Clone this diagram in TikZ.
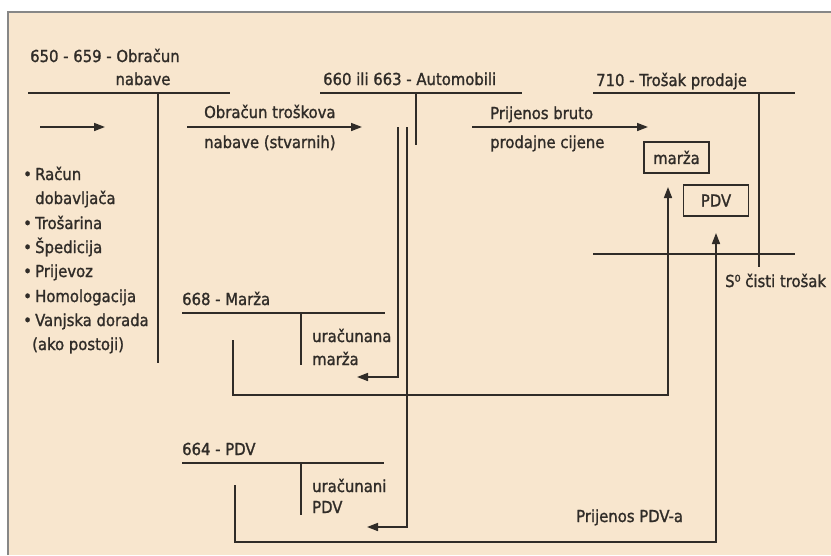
\documentclass[tikz,border=0pt]{standalone}
\usepackage{fontspec}
\setmainfont[FakeBold=1.3]{DejaVu Sans Condensed}
\usetikzlibrary{arrows.meta,calc}
\definecolor{bg}{RGB}{248,230,206}
\definecolor{ink}{RGB}{48,44,40}
\definecolor{framec}{RGB}{135,135,135}
\begin{document}
\begin{tikzpicture}[x=1pt,y=-1pt,
  lbl/.style={inner sep=0pt,anchor=base west,text=ink,font=\fontsize{16.5}{20}\selectfont},
  ln/.style={draw=ink,line width=1.6pt},
  arr/.style={ln,-{Triangle[length=11pt,width=8pt]}},
  boxn/.style={draw=ink,line width=1.6pt,minimum width=65pt,minimum height=31pt,inner sep=0pt,text=ink,font=\fontsize{16.5}{20}\selectfont}]
\useasboundingbox (0,0) rectangle (831,555);
\fill[white] (0,0) rectangle (831,555);
\fill[bg] (8,12) rectangle (831,555);
\draw[framec,line width=2.5pt] (8,555) -- (8,12) -- (831,12);

% ---- texts ----
\node[lbl] (t1a) at (30,62) {650 - 659 - Obračun};
\node[lbl,anchor=base] (t1b) at (143,85) {nabave};
\node[lbl] (t2) at (323,85) {660 ili 663 - Automobili};
\node[lbl] (t3) at (596,86) {710 - Trošak prodaje};
\node[lbl] (la1) at (204,118) {Obračun troškova};
\node[lbl] (la2) at (204,148) {nabave (stvarnih)};
\node[lbl] (lb1) at (490,119) {Prijenos bruto};
\node[lbl] (lb2) at (490,148) {prodajne cijene};
\node[lbl] (sc) at (725,287) {S⁰ čisti trošak};
\node[lbl] (t4) at (182,305) {668 - Marža};
\node[lbl] (u1) at (312,342) {uračunana};
\node[lbl] (u2) at (312,365) {marža};
\node[lbl] (t5) at (182,455) {664 - PDV};
\node[lbl] (p1) at (312,492) {uračunani};
\node[lbl] (p2) at (312,513) {PDV};
\node[lbl] (ppdv) at (576,522) {Prijenos PDV-a};

\node[lbl] (l1) at (23,180) {\makebox[12pt][l]{•}Račun};
\node[lbl] (l2) at (35,204) {dobavljača};
\node[lbl] (l3) at (23,229) {\makebox[12pt][l]{•}Trošarina};
\node[lbl] (l4) at (23,253) {\makebox[12pt][l]{•}Špedicija};
\node[lbl] (l5) at (23,277) {\makebox[12pt][l]{•}Prijevoz};
\node[lbl] (l6) at (23,302) {\makebox[12pt][l]{•}Homologacija};
\node[lbl] (l7) at (23,326) {\makebox[12pt][l]{•}Vanjska dorada};
\node[lbl] (l8) at (32,350) {(ako postoji)};

\node[boxn] (bm) at (676.5,157.5) {marža};
\node[boxn] (bp) at (716,200.5) {PDV};

% ---- coordinates ----
\coordinate (h1l) at (28,93);  \coordinate (h1r) at (230,93);
\coordinate (v1t) at (158,93); \coordinate (v1b) at (158,363);
\coordinate (s1) at (40,127);  \coordinate (s2) at (105,127);
\coordinate (a1) at (187,127); \coordinate (a2) at (362,127);
\coordinate (h2l) at (320,93); \coordinate (h2r) at (522,93);
\coordinate (v2t) at (416,93); \coordinate (v2b) at (416,145);
\coordinate (ma) at (398,127); \coordinate (mb) at (398,377); \coordinate (mc) at (357,377);
\coordinate (pa) at (407,127); \coordinate (pb) at (407,527); \coordinate (pc) at (367,527);
\coordinate (b1) at (472,127); \coordinate (b2) at (648,127);
\coordinate (h3l) at (593,93); \coordinate (h3r) at (795,93);
\coordinate (v3t) at (759,93); \coordinate (v3b) at (759,267);
\coordinate (h3bl) at (593,254); \coordinate (h3br) at (795,254);
\coordinate (h4l) at (182,313); \coordinate (h4r) at (385,313);
\coordinate (v4t) at (301,313); \coordinate (v4b) at (301,365);
\coordinate (r1a) at (233,340); \coordinate (r1b) at (233,395); \coordinate (r1c) at (668,395); \coordinate (r1d) at (668,187);
\coordinate (h5l) at (182,463); \coordinate (h5r) at (384,463);
\coordinate (v5t) at (301,463); \coordinate (v5b) at (301,515);
\coordinate (r2a) at (235,485); \coordinate (r2b) at (235,542); \coordinate (r2c) at (716,542); \coordinate (r2d) at (716,233);

% ---- lines ----
\draw[ln] (h1l) -- (h1r);
\draw[ln] (v1t) -- (v1b);
\draw[arr] (s1) -- (s2);
\draw[arr] (a1) -- (a2);
\draw[ln] (h2l) -- (h2r);
\draw[ln] (v2t) -- (v2b);
\draw[arr] (ma) -- (mb) -- (mc);
\draw[arr] (pa) -- (pb) -- (pc);
\draw[arr] (b1) -- (b2);
\draw[ln] (h3l) -- (h3r);
\draw[ln] (v3t) -- (v3b);
\draw[ln] (h3bl) -- (h3br);
\draw[ln] (h4l) -- (h4r);
\draw[ln] (v4t) -- (v4b);
\draw[arr] (r1a) -- (r1b) -- (r1c) -- (r1d);
\draw[ln] (h5l) -- (h5r);
\draw[ln] (v5t) -- (v5b);
\draw[arr] (r2a) -- (r2b) -- (r2c) -- (r2d);
\end{tikzpicture}
\end{document}
